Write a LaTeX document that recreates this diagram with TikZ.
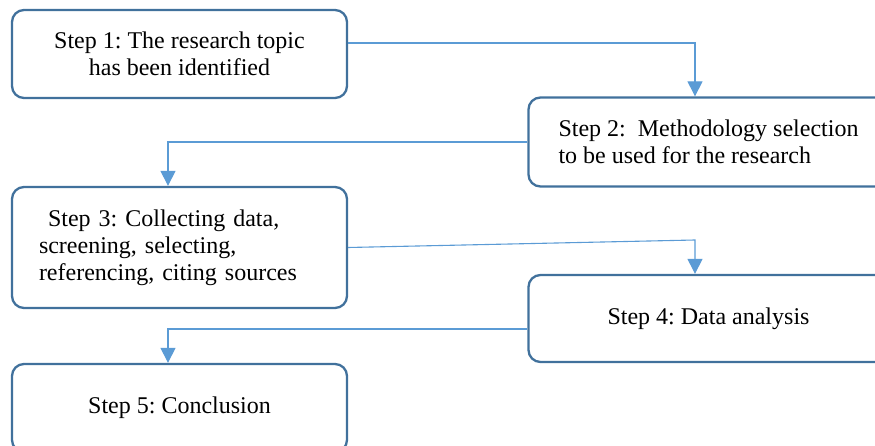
\documentclass[tikz,border=0pt]{standalone}
\usepackage{fontspec}
\setmainfont{Liberation Serif}
\usepackage{xcolor}
\usepackage{tikz}
\usetikzlibrary{arrows.meta,positioning,calc}

\definecolor{stepline}{HTML}{41719C}
\definecolor{linkblue}{HTML}{5B9BD5}

\frenchspacing

\begin{document}
\begin{tikzpicture}[x=1pt,y=-1pt,>={Triangle[length=15pt 0,width=15pt 0]},
  stepbox/.style={draw=stepline, line width=2.3pt, rounded corners=12pt,
                  fill=white, inner sep=0pt, font=\fontsize{24}{27}\selectfont},
  leftbox/.style={stepbox, minimum width=335pt},
  rightbox/.style={stepbox, minimum width=360pt},
  link/.style={->, linkblue, line width=1.1pt}]

  % ── page ────────────────────────────────────────────────────────────
  \useasboundingbox (0,0) rectangle (875,446);
  \clip (0,0) rectangle (875,446);

  % ── the five steps ──────────────────────────────────────────────────
  \node[leftbox, minimum height=88pt, align=center] (b1) at (179.5,54)
       {Step 1: The research topic\\has been identified};
  \node[rightbox, minimum height=89pt, align=left] (b2) at (708.5,142)
       {Step 2:\ \ Methodology selection\\to be used for the research};
  \node[leftbox, minimum height=121pt, text width=281pt, align=left] (b3) at (179.5,247.5)
       {\hspace*{9pt}Step 3: Collecting data,\\screening, selecting,\\referencing, citing sources};
  \node[rightbox, minimum height=87pt] (b4) at (708.5,318.5) {Step 4: Data analysis};
  \node[leftbox, minimum height=88pt] (b5) at (179.5,408) {Step 5: Conclusion};

  % ── connectors ──────────────────────────────────────────────────────
  \draw[link] ([yshift=11pt]b1.east) -| ([xshift=-13.5pt]b2.north);
  \draw[link] (b2.west) -| ([xshift=-11.5pt]b3.north);

  \coordinate (k34) at (695,240);
  \draw[link] (b3.east) -- (k34) -- (k34 |- b4.north);

  \draw[link] ([yshift=-10.5pt]b4.west) -| ([xshift=-11.5pt]b5.north);

\end{tikzpicture}
\end{document}
